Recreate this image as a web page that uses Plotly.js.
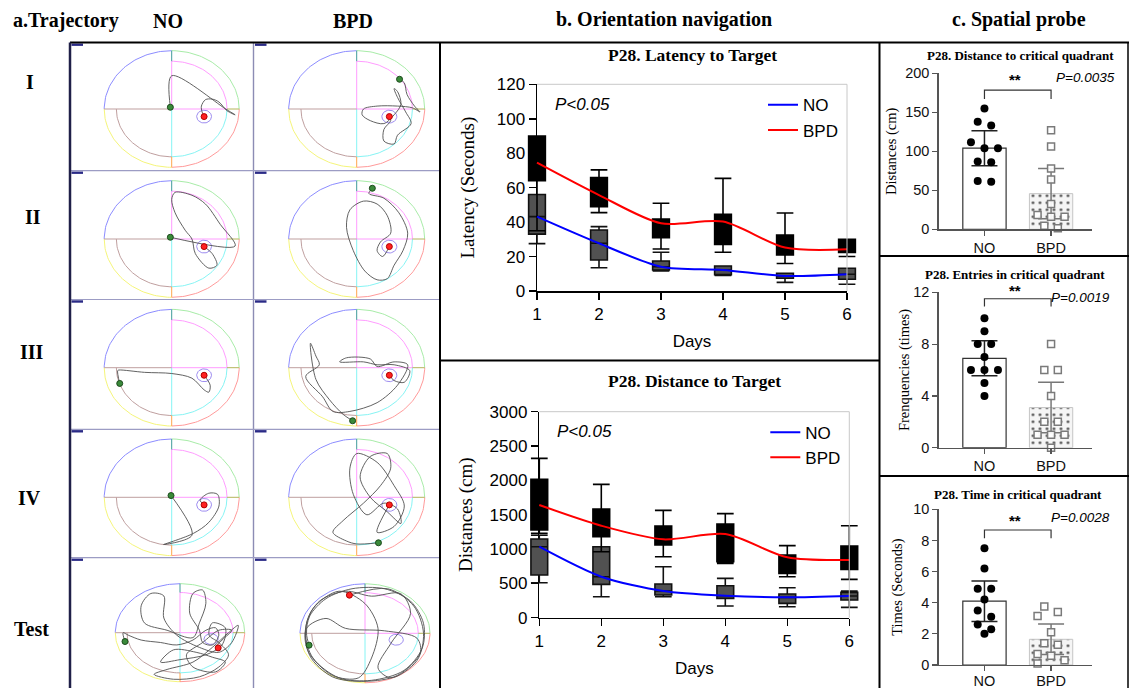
<!DOCTYPE html>
<html><head><meta charset="utf-8">
<script src="https://cdn.plot.ly/plotly-3.0.1.min.js"></script>
<style>html,body{margin:0;padding:0;background:#fff}#chart{width:1129px;height:688px}</style>
</head><body><div id="chart"></div>
<script>
// ================= DATA =================
const days = [1, 2, 3, 4, 5, 6];
const seriesNames = ['NO', 'BPD'];

// b. Latency to target (seconds) - box stats per day
const latNO_q1 = [33, 18, 12.2, 9.5, 7.4, 6.8];
const latNO_med = [43.2, 27.7, 14.1, 12.2, 8.7, 9.7];
const latNO_q3 = [56, 35.4, 17.4, 14.5, 10.3, 13.2];
const latNO_lo = [27.5, 13.5, 11.6, 9, 5, 3.9];
const latNO_hi = [56, 37.4, 22.5, 14.5, 10.3, 13.2];
const latBPD_q1 = [64, 49, 31, 27, 20.9, 22.4];
const latBPD_med = [74.5, 55.7, 39.3, 40.3, 25.2, 24.2];
const latBPD_q3 = [90, 65.8, 41.8, 44.5, 32.5, 30];
const latBPD_lo = [35, 45.5, 24.4, 22.5, 16, 20];
const latBPD_hi = [90, 70.3, 50.9, 65.4, 45.3, 30];

// b. Distance to target (cm)
const disNO_q1 = [621, 485, 330, 282, 209, 257];
const disNO_med = [1034, 597, 388, 320, 296, 316];
const disNO_q3 = [1146, 1034, 490, 466, 345, 369];
const disNO_lo = [510, 306, 306, 170, 160, 150];
const disNO_hi = [1200, 1034, 743, 573, 437, 388];
const disBPD_q1 = [1277, 1180, 1058, 816, 646, 704];
const disBPD_med = [1641, 1340, 1141, 1218, 879, 840];
const disBPD_q3 = [2015, 1583, 1335, 1364, 913, 1044];
const disBPD_lo = [1228, 961, 888, 791, 597, 558];
const disBPD_hi = [2320, 1942, 1563, 1515, 1049, 1340];

// c. Spatial probe
const probeDistNO = [155, 138, 133, 111.5, 104, 104, 86, 87, 61, 62];
const probeDistBPD = [127, 106, 78, 64, 32.5, 18.4, 16.2, 16.2, 4.7, 1.3];
const probeDistMean = [104, 45.7];
const probeDistCI = [22.5, 32.3];
const entriesNO = [10, 9, 8, 8, 7, 6, 6, 6, 5, 4];
const entriesBPD = [8, 6, 6, 4, 2, 2, 1, 1, 1, 0];
const entriesMean = [6.9, 3.1];
const entriesCI = [1.35, 1.95];
const timeNO = [7.5, 6.2, 4.9, 4.9, 4.2, 3.5, 3.1, 2.6, 2.3, 2.0];
const timeBPD = [3.75, 3.4, 3.15, 2.1, 1.4, 1.3, 0.7, 0.6, 0.3, 0.1];
const timeMean = [4.1, 1.65];
const timeCI = [1.3, 0.98];

// a. Trajectories (pool-radius units, x right, y up)
const platform = [0.48, -0.13];
const path_I_NO = [[-0.02,0.03],[0,0.57],[0.8,0.0],[0.94,-0.1],[0.82,-0.03],[0.7,0.12],[0.6,0.17],[0.5,0.16],[0.44,0.05],[0.45,-0.05],[0.48,-0.13]];
const path_I_BPD = [[0.63,0.51],[0.7,0.45],[0.74,0.25],[0.85,0.05],[0.93,-0.05],[0.82,0.02],[0.6,0.05],[0.3,0.05],[0.1,0.0],[0.08,-0.1],[0.2,-0.2],[0.4,-0.25],[0.55,-0.1],[0.65,0.08],[0.6,0.3],[0.55,0.35],[0.6,0.2],[0.72,-0.05],[0.8,-0.25],[0.6,-0.45],[0.55,-0.6],[0.4,-0.55],[0.4,-0.35],[0.5,-0.2],[0.48,-0.13]];
const path_II_NO = [[-0.02,0.03],[0.94,-0.12],[0.72,0.25],[0.5,0.6],[0.3,0.75],[0.05,0.8],[0.0,0.68],[0.05,0.45],[0.2,0.15],[0.3,0.0],[0.35,-0.25],[0.55,-0.5],[0.67,-0.45],[0.6,-0.25],[0.48,-0.13]];
const path_II_BPD = [[0.23,0.87],[0.18,0.78],[0.4,0.7],[0.62,0.45],[0.75,0.1],[0.68,-0.2],[0.55,-0.45],[0.45,-0.68],[0.3,-0.7],[0.12,-0.55],[-0.05,-0.2],[-0.15,0.2],[-0.1,0.5],[0.1,0.65],[0.3,0.6],[0.45,0.4],[0.5,0.1],[0.35,-0.05],[0.3,-0.2],[0.38,-0.3],[0.48,-0.13]];
const path_III_NO = [[-0.77,-0.27],[-0.8,-0.05],[-0.78,-0.04],[-0.4,-0.08],[0.0,-0.1],[0.3,-0.18],[0.48,-0.38],[0.55,-0.42],[0.57,-0.3],[0.5,-0.16],[0.48,-0.13]];
const path_III_BPD = [[-0.06,-0.91],[-0.2,-0.8],[-0.4,-0.55],[-0.6,-0.2],[-0.68,0.42],[-0.6,0.2],[-0.55,0.05],[-0.75,-0.15],[-0.5,-0.5],[-0.35,-0.75],[-0.1,-0.75],[0.3,-0.6],[0.6,-0.3],[0.75,0.05],[0.55,0.1],[0.3,0.02],[0.2,0.15],[-0.15,0.17],[-0.25,0.1],[0.1,0.1],[0.3,0.05],[0.55,0.05],[0.78,-0.05],[0.7,-0.25],[0.55,-0.22],[0.48,-0.13]];
const path_IV_NO = [[-0.01,0.03],[0.3,-0.65],[-0.12,-0.81],[0.32,-0.62],[0.55,-0.43],[0.7,-0.15],[0.68,0.05],[0.55,0.07],[0.42,-0.05],[0.48,-0.13]];
const path_IV_BPD = [[0.32,-0.78],[0.0,-0.8],[-0.15,-0.75],[-0.35,-0.6],[-0.2,-0.4],[0.1,-0.1],[0.35,0.2],[0.5,0.5],[0.45,0.75],[0.2,0.7],[0.05,0.35],[0.2,0.0],[0.45,-0.25],[0.65,-0.45],[0.6,-0.2],[0.4,-0.1],[0.15,-0.3],[-0.05,0.05],[-0.1,0.5],[0.0,0.75],[0.3,0.6],[0.55,0.2],[0.7,-0.15],[0.55,-0.5],[0.3,-0.6],[0.48,-0.13]];
const path_Test_NO = [[-0.85,-0.18],[-0.88,0.0],[-0.8,-0.05],[-0.6,-0.15],[-0.3,-0.2],[-0.05,-0.25],[0.2,-0.15],[0.4,0.05],[0.55,0.1],[0.6,-0.05],[0.5,-0.25],[0.35,-0.2],[0.3,0.05],[0.15,0.4],[0.2,0.8],[0.35,0.87],[0.4,0.6],[0.3,0.2],[0.2,-0.1],[-0.2,0.05],[-0.55,0.2],[-0.6,0.55],[-0.45,0.8],[-0.25,0.75],[-0.25,0.3],[-0.05,-0.05],[0.3,-0.3],[0.6,-0.4],[0.8,-0.2],[0.9,0.15],[0.75,0.0],[0.5,-0.3],[0.2,-0.6],[-0.2,-0.75],[-0.4,-0.85],[-0.1,-0.95],[0.3,-0.9],[0.6,-0.7],[0.75,-0.45],[0.6,-0.2],[0.45,-0.05],[0.5,0.2],[0.7,0.1],[0.65,-0.25],[0.4,-0.45],[0.0,-0.55],[-0.3,-0.6],[-0.1,-0.35],[0.25,-0.4],[0.5,-0.5],[0.7,-0.6],[0.55,-0.8],[0.2,-0.7],[0.1,-0.45],[0.35,-0.2],[0.6,0.05],[0.8,0.05],[0.65,-0.15],[0.55,-0.3],[0.59,-0.31]];
const path_Test_BPD = [[-0.86,-0.24],[-0.9,0.0],[-0.85,0.35],[-0.6,0.7],[-0.2,0.9],[0.3,0.9],[0.7,0.65],[0.9,0.2],[0.88,-0.3],[0.6,-0.75],[0.1,-0.95],[-0.4,-0.9],[-0.8,-0.5],[-0.92,0.0],[-0.8,0.5],[-0.4,0.85],[0.0,0.6],[0.2,0.1],[0.1,-0.5],[-0.1,-0.9],[-0.5,-0.85],[-0.88,-0.35],[-0.9,0.1],[-0.6,0.3],[-0.3,0.1],[0.3,0.05],[0.8,-0.1],[0.85,-0.4],[0.5,-0.85],[0.0,-0.97],[-0.5,-0.88],[-0.85,-0.45],[-0.9,0.2],[-0.7,0.65],[-0.3,0.85],[0.1,0.75],[0.55,0.8],[0.7,0.4],[0.4,-0.2],[0.2,-0.7],[0.4,-0.9],[0.8,-0.55],[0.9,0.0],[0.75,0.55],[0.35,0.9],[-0.24,0.77]];
const rowLabels = ['I', 'II', 'III', 'IV', 'Test'];
const trajectories = [[path_I_NO, path_I_BPD],[path_II_NO, path_II_BPD],[path_III_NO, path_III_BPD],[path_IV_NO, path_IV_BPD],[path_Test_NO, path_Test_BPD]];

// ================= LAYOUT HELPERS =================
const W = 1129, H = 688;
const SANS = 'Liberation Sans, Arial, sans-serif';
const SERIF = 'Liberation Serif, Times New Roman, serif';
const fx = v => v / W, fy = v => 1 - v / H;
const layout = {width: W, height: H, margin: {l:0, r:0, t:0, b:0, pad:0},
  paper_bgcolor: '#fff', plot_bgcolor: 'rgba(0,0,0,0)', boxmode: 'overlay', barmode: 'overlay',
  showlegend: true, hovermode: false, font: {family: SANS, color: '#000'}, shapes: [], annotations: []};
const traces = [];
let nAx = 0;
function mkAxes(x0, x1, y0, y1, xo, yo) {
  nAx++; const s = nAx === 1 ? '' : String(nAx);
  layout['xaxis' + s] = Object.assign({domain: [fx(x0), fx(x1)], anchor: 'y' + s, fixedrange: true, showgrid: false, zeroline: false}, xo);
  layout['yaxis' + s] = Object.assign({domain: [fy(y1), fy(y0)], anchor: 'x' + s, fixedrange: true, showgrid: false, zeroline: false}, yo);
  return {xaxis: 'x' + s, yaxis: 'y' + s};
}
function pline(x0, y0, x1, y1, color, width) {
  layout.shapes.push({type: 'line', xref: 'paper', yref: 'paper', x0: fx(x0), y0: fy(y0), x1: fx(x1), y1: fy(y1), line: {color: color, width: width}});
}
function ptext(text, x, y, size, family, extra) {
  layout.annotations.push(Object.assign({text: text, xref: 'paper', yref: 'paper', x: fx(x), y: fy(y), xanchor: 'center', yanchor: 'middle', showarrow: false, font: {size: size, family: family, color: '#000'}}, extra || {}));
}

// ================= PANEL A: trajectories =================
const cellCols = [[70, 253.5], [253.5, 440]];
const cellRows = [[42.7, 170.7], [170.7, 299.5], [299.5, 429.3], [429.3, 557.7], [557.7, 688]];
const arenaGeom = [
  [{cx:171.7, cy:109, rx:67.5, ry:58.3}, {cx:356.7, cy:109, rx:68, ry:58.3}],
  [{cx:171.7, cy:239, rx:67.5, ry:58.3}, {cx:356.7, cy:239, rx:68, ry:58.3}],
  [{cx:171.7, cy:367.7, rx:67.5, ry:58.3}, {cx:356.7, cy:367.7, rx:68, ry:58.3}],
  [{cx:171.7, cy:497.3, rx:67.5, ry:58.3}, {cx:356.7, cy:497.3, rx:68, ry:58.3}],
  [{cx:180, cy:632.7, rx:64.7, ry:49}, {cx:365, cy:633.3, rx:65, ry:49.5}]
];
const R = 0.82;
function arc(r, a0, a1) { const pts = []; for (let i = 0; i <= 48; i++) { const a = (a0 + (a1 - a0) * i / 48) * Math.PI / 180; pts.push([r * Math.cos(a), r * Math.sin(a)]); } return pts; }
const arenaParts = [
  {c:'#8c8cff', segs:[arc(1, 90, 180)]},
  {c:'#a8eca8', segs:[arc(1, 0, 90)]},
  {c:'#ff9a9a', segs:[arc(1, 270, 360)]},
  {c:'#f5f57a', segs:[arc(1, 180, 270)]},
  {c:'#ff9cff', segs:[arc(R, 0, 90), [[0,0],[0,R]], [[0,0],[R,0]]]},
  {c:'#86f4f4', segs:[arc(R, 270, 360), [[0,0],[0,-R]]]},
  {c:'#bf9f9f', segs:[arc(R, 180, 270), [[-1,0],[0,0]]]},
  {c:'#3f9a9a', segs:[[[0,R],[0,1]]]},
  {c:'#ffa64d', segs:[[[0,-R],[0,-1]]]},
  {c:'#b4b45a', segs:[[[R,0],[1,0]]]}
];
function segsToXY(segs) { const x = [], y = []; segs.forEach((s, i) => { if (i) { x.push(null); y.push(null); } s.forEach(p => { x.push(p[0]); y.push(p[1]); }); }); return {x, y}; }
const platCircle = arc(0.11, 0, 360);

rowLabels.forEach((lab, ri) => {
  [0, 1].forEach(ci => {
    const g = arenaGeom[ri][ci]; const [l, r] = cellCols[ci]; const [t, b] = cellRows[ri];
    const ax = mkAxes(l, r, t, b, {visible: false, range: [(l - g.cx) / g.rx, (r - g.cx) / g.rx]},
                      {visible: false, range: [(g.cy - b) / g.ry, (g.cy - t) / g.ry]});
    arenaParts.forEach(p => { const xy = segsToXY(p.segs);
      traces.push({type:'scatter', mode:'lines', x: xy.x, y: xy.y, line:{color:p.c, width:1}, xaxis:ax.xaxis, yaxis:ax.yaxis, showlegend:false, hoverinfo:'skip'}); });
    traces.push({type:'scatter', mode:'lines', x: platCircle.map(p => p[0] + platform[0]), y: platCircle.map(p => p[1] + platform[1]),
      line:{color:'#9d8cf0', width:1}, xaxis:ax.xaxis, yaxis:ax.yaxis, showlegend:false, hoverinfo:'skip'});
    const path = trajectories[ri][ci];
    traces.push({type:'scatter', mode:'lines', x: path.map(p => p[0]), y: path.map(p => p[1]),
      line:{color:'#505050', width:0.9, shape:'spline', smoothing:0.9}, xaxis:ax.xaxis, yaxis:ax.yaxis, showlegend:false, hoverinfo:'skip'});
    const s0 = path[0], s1 = path[path.length - 1];
    traces.push({type:'scatter', mode:'markers', x:[s0[0]], y:[s0[1]], marker:{size:6, color:'#3a8a3a', line:{color:'#1c4a1c', width:1}}, xaxis:ax.xaxis, yaxis:ax.yaxis, showlegend:false, hoverinfo:'skip'});
    traces.push({type:'scatter', mode:'markers', x:[s1[0]], y:[s1[1]], marker:{size:6, color:'#ff2020', line:{color:'#b00000', width:1}}, xaxis:ax.xaxis, yaxis:ax.yaxis, showlegend:false, hoverinfo:'skip'});
    layout.shapes.push({type:'rect', xref:'paper', yref:'paper', x0:fx(l + 1.5), x1:fx(l + 13), y0:fy(t + 3.2), y1:fy(t + 0.8), line:{width:0}, fillcolor:'#2a2a86'});
  });
});
// cell grid
pline(253.5, 42.5, 253.5, 688, '#8c8cb4', 1.4);
[170.7, 299.5, 429.3, 557.7].forEach(y => pline(70, y, 440, y, '#9c9cc4', 1.2));
// labels for panel a
ptext('<b>a.Trajectory</b>', 66, 20.7, 20, SERIF);
ptext('<b>NO</b>', 168.3, 20.7, 20, SERIF);
ptext('<b>BPD</b>', 353.3, 20.7, 20, SERIF);
const rowLabelPos = [[30, 82], [33, 217], [31.5, 352], [29.5, 498], [31.5, 629]];
rowLabels.forEach((lab, i) => ptext('<b>' + lab + '</b>', rowLabelPos[i][0], rowLabelPos[i][1], 20, SERIF));

// ================= PANEL B =================
ptext('<b>b. Orientation navigation</b>', 664, 19.5, 20, SERIF);
function lineBoxChart(cfg) {
  const axA = mkAxes(cfg.x0, cfg.x1, cfg.y0, cfg.y1,
    {range:[1, 6], tick0:1, dtick:1, ticks:'outside', ticklen:7, tickwidth:1.5, tickcolor:'#000', showline:true, linewidth:1.5, linecolor:'#000',
     tickfont:{size:17, family:SANS, color:'#000'}, title:{text:'Days', font:{size:17, family:SANS, color:'#000'}, standoff:12}},
    {range:cfg.yrange, tick0:0, dtick:cfg.dtick, ticks:'outside', ticklen:7, tickwidth:1.5, tickcolor:'#000', showline:true, linewidth:1.5, linecolor:'#000',
     tickfont:{size:17, family:SANS, color:'#000'}, title:{text:cfg.ytitle, font:{size:19, family:SERIF, color:'#000'}, standoff:cfg.ystand}});
  // invisible anchor trace so the axes subplot is drawn
  traces.push({type:'scatter', mode:'markers', x:[days[0]], y:[cfg.yrange[0]], marker:{opacity:0, size:1}, xaxis:axA.xaxis, yaxis:axA.yaxis, showlegend:false, hoverinfo:'skip'});
  // light top/right frame
  layout.shapes.push({type:'line', xref:axA.xaxis + ' domain', yref:axA.yaxis + ' domain', x0:0, x1:1, y0:1, y1:1, line:{color:'#c8c8c8', width:1}});
  layout.shapes.push({type:'line', xref:axA.xaxis + ' domain', yref:axA.yaxis + ' domain', x0:1, x1:1, y0:0, y1:1, line:{color:'#c8c8c8', width:1}});
  const pxu = (cfg.x1 - cfg.x0) / 5;
  const axD = mkAxes(cfg.x0 - 0.2 * pxu, cfg.x1 + 0.2 * pxu, cfg.y0, cfg.y1, {visible:false, range:[0.8, 6.2]}, {visible:false, range:cfg.yrange});
  const box = (s, fill, line) => ({type:'box', x:days, q1:s.q1, median:s.med, q3:s.q3, lowerfence:s.lo, upperfence:s.hi,
     width:0.27, whiskerwidth:1, fillcolor:fill, line:{color:line, width:1.6}, boxpoints:false,
     xaxis:axD.xaxis, yaxis:axD.yaxis, showlegend:false, hoverinfo:'skip'});
  traces.push(box(cfg.no, '#515151', '#111'));
  traces.push(box(cfg.bpd, '#000', '#000'));
  traces.push({type:'scatter', mode:'lines', name:seriesNames[0], x:days, y:cfg.no.med, line:{color:'#0000ff', width:2, shape:'spline', smoothing:0.8},
     xaxis:axD.xaxis, yaxis:axD.yaxis, legend:cfg.legend, legendgroup:cfg.legend + 'a', hoverinfo:'skip'});
  traces.push({type:'scatter', mode:'lines', name:seriesNames[1], x:days, y:cfg.bpd.med, line:{color:'#ff0000', width:2, shape:'spline', smoothing:0.8},
     xaxis:axD.xaxis, yaxis:axD.yaxis, legend:cfg.legend, legendgroup:cfg.legend + 'b', hoverinfo:'skip'});
  layout[cfg.legend] = {x:fx(cfg.x1 - 84), y:fy(cfg.y0 + 3), xanchor:'left', yanchor:'top', bgcolor:'rgba(0,0,0,0)', borderwidth:0,
     font:{size:17, family:SANS, color:'#000'}, itemwidth:30, tracegroupgap:6, traceorder:'normal'};
  ptext('<b>' + cfg.title + '</b>', cfg.titleX, cfg.titleY, 17.5, SERIF);
  ptext('<i>P&lt;0.05</i>', cfg.x0 + 45, cfg.y0 + 20, 17, SANS);
}
lineBoxChart({x0:537, x1:847, y0:84.3, y1:291, yrange:[0, 120], dtick:20, ytitle:'Latency (Seconds)', ystand:17, legend:'legend',
  title:'P28. Latency to Target', titleX:692, titleY:55,
  no:{q1:latNO_q1, med:latNO_med, q3:latNO_q3, lo:latNO_lo, hi:latNO_hi},
  bpd:{q1:latBPD_q1, med:latBPD_med, q3:latBPD_q3, lo:latBPD_lo, hi:latBPD_hi}});
lineBoxChart({x0:539.3, x1:849.3, y0:411.7, y1:617.7, yrange:[0, 3000], dtick:500, ytitle:'Distances (cm)', ystand:12, legend:'legend2',
  title:'P28. Distance to Target', titleX:695, titleY:380.5,
  no:{q1:disNO_q1, med:disNO_med, q3:disNO_q3, lo:disNO_lo, hi:disNO_hi},
  bpd:{q1:disBPD_q1, med:disBPD_med, q3:disBPD_q3, lo:disBPD_lo, hi:disBPD_hi}});

// ================= PANEL C =================
ptext('<b>c. Spatial probe</b>', 1019, 19.5, 20, SERIF);
function swarm(vals, pxPerUnit, d, s) {
  const idx = vals.map((v, i) => i).sort((a, b) => vals[b] - vals[a]);
  const groups = [];
  idx.forEach(i => { const g = groups[groups.length - 1];
    if (g && (vals[g[0]] - vals[i]) * pxPerUnit < d * 0.8) g.push(i); else groups.push([i]); });
  const placed = [], off = new Array(vals.length).fill(0);
  groups.forEach(g => {
    const opts = g.length === 1 ? [[0], [-s], [s]] : [g.map((i, k) => (k - (g.length - 1) / 2) * s), g.map((i, k) => (k - (g.length - 1) / 2) * 2 * s)];
    let chosen = opts[opts.length - 1];
    for (const cand of opts) {
      const ok = g.every((i, k) => placed.every(p => Math.hypot(p.x - cand[k], p.y - vals[i] * pxPerUnit) >= d * 0.95));
      if (ok) { chosen = cand; break; }
    }
    g.forEach((i, k) => { off[i] = chosen[k]; placed.push({x: chosen[k], y: vals[i] * pxPerUnit}); });
  });
  return off;
}
function barChart(cfg) {
  const x0 = 938.5, x1 = 1091.7, xr = [-0.69, 1.61];
  const catPx = (x1 - x0) / (xr[1] - xr[0]);
  const ax = mkAxes(x0, x1, cfg.y0, cfg.y1,
    {range:xr, tickvals:[0, 1], ticktext:seriesNames, ticks:'outside', ticklen:5, tickwidth:1.2, tickcolor:'#555', showline:true, linewidth:1.2, linecolor:'#555',
     tickfont:{size:14.5, family:SANS, color:'#111'}, ticklabelstandoff:cfg.xstand || 0},
    {range:cfg.yrange, tick0:0, dtick:cfg.dtick, ticks:'outside', ticklen:5, tickwidth:1.2, tickcolor:'#555', showline:true, linewidth:1.2, linecolor:'#555',
     tickfont:{size:14.5, family:SANS, color:'#111'}, title:{text:cfg.ytitle, font:{size:14.5, family:SERIF, color:'#000'}, standoff:cfg.standoff}});
  traces.push({type:'bar', x:[0], y:[cfg.mean[0]], width:0.65, marker:{color:'#fff', line:{color:'#333', width:1.2}},
    error_y:{type:'data', array:[cfg.ci[0]], color:'#222', thickness:1.5, width:13}, xaxis:ax.xaxis, yaxis:ax.yaxis, showlegend:false, hoverinfo:'skip'});
  traces.push({type:'bar', x:[1], y:[cfg.mean[1]], width:0.65,
    marker:{color:'#f5f5f5', line:{color:'#c4c4c4', width:1}, pattern:{shape:'.', fgcolor:'#444', bgcolor:'#f5f5f5', size:7, solidity:0.12}},
    error_y:{type:'data', array:[cfg.ci[1]], color:'#777', thickness:1.5, width:13}, xaxis:ax.xaxis, yaxis:ax.yaxis, showlegend:false, hoverinfo:'skip'});
  const ppu = (cfg.y1 - cfg.y0) / (cfg.yrange[1] - cfg.yrange[0]);
  const oNO = swarm(cfg.no, ppu, 8.5, 13.5), oB = swarm(cfg.bpd, ppu, 8.5, 13.5);
  traces.push({type:'scatter', mode:'markers', x:oNO.map(o => 0 + o / catPx), y:cfg.no, marker:{symbol:'circle', size:8, color:'#000'},
    xaxis:ax.xaxis, yaxis:ax.yaxis, showlegend:false, hoverinfo:'skip', cliponaxis:false});
  traces.push({type:'scatter', mode:'markers', x:oB.map(o => 1 + o / catPx), y:cfg.bpd, marker:{symbol:'square', size:7, color:'rgba(255,255,255,0.9)', line:{color:'#7a7a7a', width:1.5}},
    xaxis:ax.xaxis, yaxis:ax.yaxis, showlegend:false, hoverinfo:'skip', cliponaxis:false});
  layout.shapes.push({type:'path', xref:ax.xaxis, yref:ax.yaxis, path:'M0,' + cfg.br[0] + ' L0,' + cfg.br[1] + ' L1,' + cfg.br[1] + ' L1,' + cfg.br[0], line:{color:'#333', width:1.2}});
  ptext('<b>' + cfg.title + '</b>', cfg.titleX, cfg.titleY, 13, SERIF);
  ptext('<b>**</b>', 1015, cfg.starY, 15, SANS);
  ptext('<i>' + cfg.p + '</i>', cfg.pX, cfg.pY, 13.5, SANS);
}
barChart({y0:73.3, y1:229.3, yrange:[0, 200], dtick:50, ytitle:'Distances (cm)', standoff:5, no:probeDistNO, bpd:probeDistBPD, mean:probeDistMean, ci:probeDistCI,
  br:[167, 178.5], title:'P28. Distance to critical quadrant', titleX:1020, titleY:55, starY:80, p:'P=0.0035', pX:1085, pY:78});
barChart({y0:292.3, y1:447.7, yrange:[0, 12], dtick:4, ytitle:'Frenquencies (times)', standoff:0, no:entriesNO, bpd:entriesBPD, mean:entriesMean, ci:entriesCI,
  br:[10.9, 11.5], title:'P28. Entries in critical quadrant', titleX:1015, titleY:275, starY:290, p:'P=0.0019', pX:1080, pY:297});
barChart({y0:509.3, y1:665, yrange:[0, 10], dtick:2, ytitle:'Times (Seconds)', standoff:7, no:timeNO, bpd:timeBPD, mean:timeMean, ci:timeCI, xstand:-3,
  br:[8.14, 8.67], title:'P28. Time in critical quadrant', titleX:1018, titleY:495, starY:520, p:'P=0.0028', pX:1080, pY:517});

// ================= FRAME LINES =================
pline(70, 42.5, 1129, 42.5, '#000', 2);
pline(70, 42.5, 70, 688, '#202048', 2.5);
pline(440, 42.5, 440, 688, '#000', 2);
pline(879.5, 42.5, 879.5, 688, '#000', 2);
pline(440, 360.5, 879.5, 360.5, '#000', 2);
pline(879.5, 256, 1129, 256, '#000', 2);
pline(879.5, 476, 1129, 476, '#000', 2);
pline(1128, 42.5, 1128, 688, '#000', 1.5);

Plotly.newPlot('chart', traces, layout, {staticPlot: true, displayModeBar: false});
</script></body></html>
